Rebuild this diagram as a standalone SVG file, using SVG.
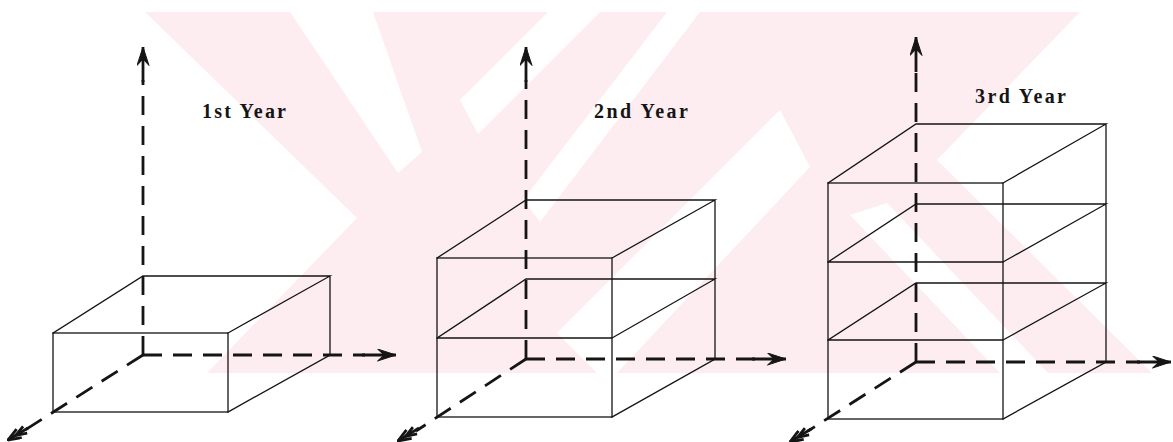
<svg xmlns="http://www.w3.org/2000/svg" width="1173" height="442" viewBox="0 0 1173 442">
<style>
.wm{fill:#fdedf0;stroke:none}
.wmw{fill:#ffffff;stroke:none}
.edge{stroke:#151515;stroke-width:1.3;fill:none;stroke-linecap:square}
.axis{stroke:#151515;stroke-width:2.8;fill:none;stroke-dasharray:19 11}
.shaft{stroke:#151515;stroke-width:2.8;fill:none}
.lbl{font-family:"Liberation Serif","Times New Roman",serif;font-weight:bold;font-size:20px;fill:#151515}
</style>
<defs>
<marker id="ah" viewBox="0 0 19 13" refX="19" refY="6.5" markerWidth="19" markerHeight="13" markerUnits="userSpaceOnUse" orient="auto">
<path d="M0.5,0.5 L19,6.5 L0.5,12.5 L7,6.5 Z" fill="#151515" stroke="#151515" stroke-width="1" stroke-linejoin="round"/>
</marker>
<marker id="dh" viewBox="0 0 22 12" refX="21" refY="6" markerWidth="22" markerHeight="12" markerUnits="userSpaceOnUse" orient="auto">
<path d="M8,1 L21,6 L8,11 M1,2 L12,6 L1,10" fill="none" stroke="#151515" stroke-width="2.8"/>
</marker>
</defs>
<rect width="1173" height="442" fill="#ffffff"/>
<g id="watermark">
<path class="wm" d="M145,12 L1080,12 L937,160 L1152,373 L207,373 L357,218 Z"/>
<path class="wmw" d="M290,12 L373,12 L422,152 L398,173 Z"/>
<path class="wmw" d="M460,100 L548,12 L600,12 L478,134 Z"/>
<path class="wmw" d="M523,200 L667,12 L700,12 L540,222 Z"/>
<path class="wmw" d="M557,333 L780,110 L810,167 L617,373 L597,373 Z"/>
<path class="wmw" d="M887,203 L1048,373 L1000,373 L850,215 Z"/>
</g>
<g id="connectors">
<path class="axis" d="M143,355 V80"/>
<path class="shaft" d="M143,82 V47" marker-end="url(#ah)"/>
<path class="axis" d="M143,355 H365"/>
<path class="shaft" d="M362,355 H396" marker-end="url(#ah)"/>
<path class="axis" d="M143,355 L25,430"/>
<path class="shaft" d="M28,428 L8,440" marker-end="url(#dh)"/>
<path class="axis" d="M526,359 V80"/>
<path class="shaft" d="M526,82 V47" marker-end="url(#ah)"/>
<path class="axis" d="M526,359 H755"/>
<path class="shaft" d="M752,359 H786" marker-end="url(#ah)"/>
<path class="axis" d="M526,359 L416,431"/>
<path class="shaft" d="M419,428 L398,441" marker-end="url(#dh)"/>
<path class="axis" d="M916,362 V70"/>
<path class="shaft" d="M916,72 V37" marker-end="url(#ah)"/>
<path class="axis" d="M916,362 H1140"/>
<path class="shaft" d="M1137,362 H1171" marker-end="url(#ah)"/>
<path class="axis" d="M916,362 L808,431"/>
<path class="shaft" d="M811,429 L790,442" marker-end="url(#dh)"/>
</g>
<g id="box1">
<rect class="edge" x="53" y="333" width="175" height="79"/>
<path class="edge" d="M53,333 L143,276 H330 L228,333 M330,276 V355 L228,412"/>
<text class="lbl" x="202" y="118" textLength="84" lengthAdjust="spacing">1st Year</text>
</g>
<g id="box2">
<rect class="edge" x="437" y="258" width="175" height="159"/>
<path class="edge" d="M437,338 H612 M437,258 L526,200 H715 L612,258 M437,338 L526,279 H715 L612,338 M715,200 V359 L612,417"/>
<text class="lbl" x="594" y="118" textLength="94" lengthAdjust="spacing">2nd Year</text>
</g>
<g id="box3">
<rect class="edge" x="828" y="183" width="175" height="236"/>
<path class="edge" d="M828,262 H1003 M828,340 H1003 M828,183 L916,124 H1106 L1003,183 M828,262 L916,204 H1106 L1003,262 M828,340 L916,283 H1106 L1003,340 M1106,124 V362 L1003,419"/>
<text class="lbl" x="975" y="103" textLength="91" lengthAdjust="spacing">3rd Year</text>
</g>
</svg>
